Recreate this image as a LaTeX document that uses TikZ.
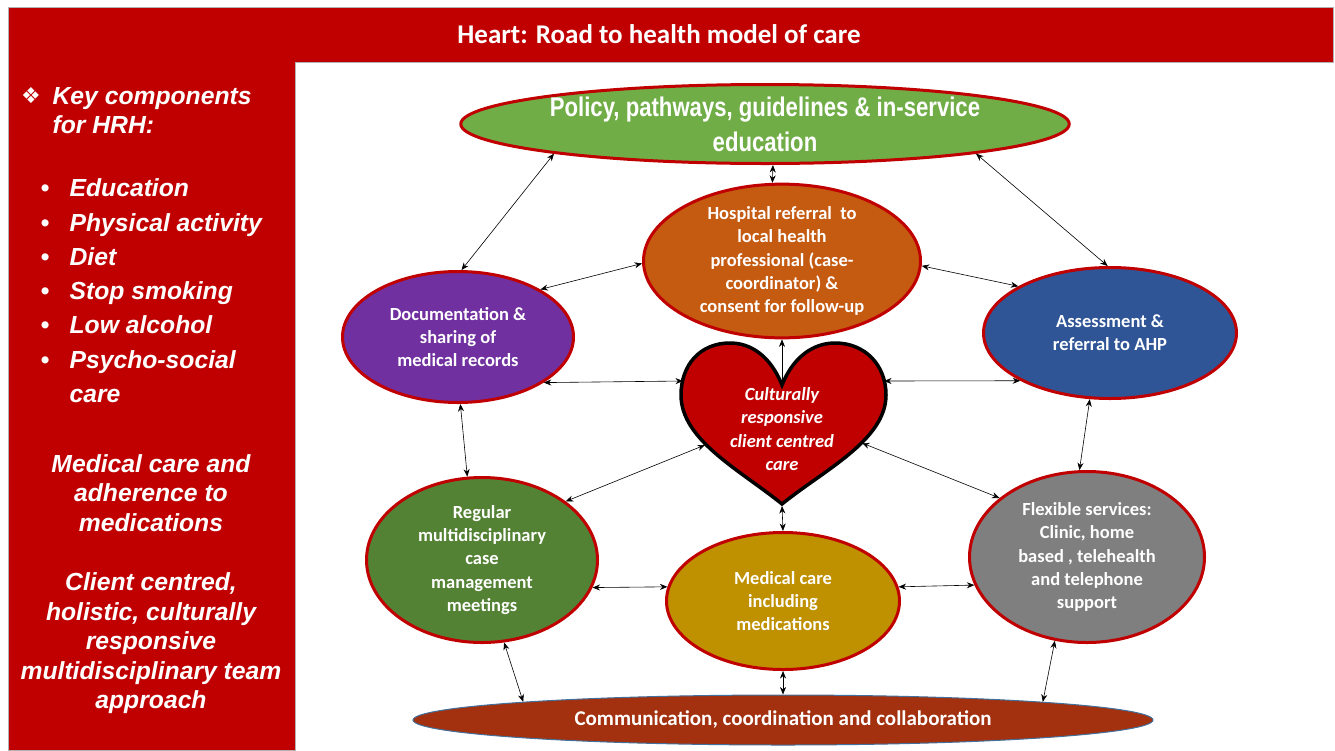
\documentclass[tikz,border=0pt]{standalone}
\usepackage{fontspec}
\usetikzlibrary{shapes.geometric,arrows.meta}
\setmainfont{Carlito}
\newfontfamily\arialfont{Liberation Sans}
\newfontfamily\narrowfont[FakeStretch=0.82]{Liberation Sans}
\newfontfamily\symfont{DejaVu Sans}

\definecolor{boxred}{HTML}{C00000}
\definecolor{policygreen}{HTML}{70AD47}
\definecolor{referorange}{HTML}{C55A11}
\definecolor{docpurple}{HTML}{7030A0}
\definecolor{assessblue}{HTML}{2F5597}
\definecolor{meetgreen}{HTML}{548235}
\definecolor{medgold}{HTML}{BF9000}
\definecolor{flexgrey}{HTML}{7F7F7F}
\definecolor{commbrown}{HTML}{A3300F}
\definecolor{commedge}{HTML}{41719C}

\newcommand{\hrhdot}{\llap{{\upshape\textbullet}\hspace{20pt}}}

\begin{document}
\begin{tikzpicture}
            [x=1pt, y=-1pt, >={Stealth[length=7.5pt,width=6pt]}, semithick,
             bubble/.style={shape=ellipse, draw=boxred, line width=3pt, text=white, inner sep=0pt,
                            align=center, font=\bfseries\fontsize{18.5}{23.2}\selectfont},
             panel/.style={text=white, font=\arialfont\bfseries\itshape\fontsize{24.7}{29.4}\selectfont}]
            \useasboundingbox (0,0) rectangle (1335,750);

            % frame
            \filldraw[fill=boxred, draw=black!30, line width=0.8pt]
                (8,7) -- (1333,7) -- (1333,62) -- (295,62) -- (295,750) -- (8,750) -- cycle;
            \node[text=white, font=\bfseries\fontsize{27}{32}\selectfont] (title) at (659,34) {Heart: Road to health model of care};

            % left panel (base = last line)
            \node[text=white, font=\symfont\fontsize{22}{24}\selectfont] (hrhmark) at (31,96) {❖};
            \node[panel, anchor=base west, align=left] (hrhhead) at (49,133.5) {Key components\\for HRH:};
            \node[panel, anchor=base west, align=left, font=\arialfont\bfseries\itshape\fontsize{24.7}{34.3}\selectfont] (hrhlist) at (66,402.5)
                {\hrhdot Education\\\hrhdot Physical activity\\\hrhdot Diet\\\hrhdot Stop smoking\\\hrhdot Low alcohol\\\hrhdot Psycho-social\\care};
            \node[panel, anchor=base, align=center] (medpara) at (151,531) {Medical care and\\adherence to\\medications};
            \node[panel, anchor=base, align=center] (teampara) at (151,708.5)
                {Client centred,\\holistic, culturally\\responsive\\multidisciplinary team\\approach};

            % model of care
            \node[bubble, fill=policygreen, minimum width=608pt, minimum height=79pt,
                  font=\narrowfont\bfseries\fontsize{27}{35}\selectfont] (policy) at (765,124)
                {Policy, pathways, guidelines \& in-service\\education};
            \node[bubble, fill=referorange, minimum width=277pt, minimum height=142pt] (hosp) at (782,261)
                {Hospital referral\ \ to\\local health\\professional (case-\\coordinator) \&\\consent for follow-up};
            \node[bubble, fill=docpurple, minimum width=231pt, minimum height=131pt] (doc) at (458,337)
                {Documentation \&\\sharing of\\medical records};
            \node[bubble, fill=assessblue, minimum width=253pt, minimum height=131pt] (assess) at (1110,333)
                {Assessment \&\\referral to AHP};
            \node[bubble, fill=meetgreen, minimum width=231pt, minimum height=165pt] (meet) at (482,560)
                {Regular\\multidisciplinary\\case\\management\\meetings};
            \node[bubble, fill=medgold, minimum width=233pt, minimum height=137pt] (med) at (783,601)
                {Medical care\\including\\medications};
            \node[bubble, fill=flexgrey, minimum width=235pt, minimum height=171pt] (flex) at (1087,557)
                {Flexible services:\\Clinic, home\\based , telehealth\\and telephone\\support};
            \node[bubble, fill=commbrown, draw=commedge, line width=1pt, minimum width=740pt, minimum height=50pt,
                  font=\bfseries\fontsize{21}{25}\selectfont] (comm) at (783,720)
                {Communication, coordination and collaboration};

            % heart
            \filldraw[fill=boxred, draw=black, line width=3.5pt]
                (782,385) .. controls (770,355) and (750,343) .. (730,343)
                .. controls (700,343) and (681,365) .. (681,395)
                .. controls (681,440) and (740,470) .. (782,504)
                .. controls (824,470) and (886,440) .. (886,395)
                .. controls (886,365) and (865,343) .. (835,343)
                .. controls (815,343) and (794,355) .. (782,385) -- cycle;
            \coordinate (heartnotch) at (782,387);
            \coordinate (heartleft) at (683,381);
            \coordinate (heartright) at (884,381);
            \coordinate (heartlowleft) at (705,445);
            \coordinate (heartlowright) at (862,443);
            \coordinate (hearttip) at (782,506);
            \node[text=white, align=center, font=\bfseries\itshape\fontsize{18.5}{23.3}\selectfont] (care) at (782,429)
                {Culturally\\responsive\\client centred\\care};

            \path [<->] (policy.188) edge (doc.87);
            \path [<->] (policy.-79) edge (hosp.97);
            \path [<->] (policy.-8) edge (assess.92);
            \path [<->] (doc.30) edge (hosp.181);
            \path [<->] (hosp.-2) edge (assess.153);
            \path [<->] (doc.-28) edge (heartleft);
            \path [->] (heartnotch) edge (hosp.south);
            \path [<->] (heartright) edge (assess.208);
            \path [<->] (doc.-88) edge (meet.100);
            \path [<->] (assess.-107) edge (flex.95);
            \path [<->] (heartlowleft) edge (meet.35);
            \path [<->] (heartlowright) edge (flex.146);
            \path [<->] (hearttip) edge (med.north);
            \path [<->] (meet.-14) edge (med.173);
            \path [<->] (med.7) edge (flex.194);
            \path [<->] (meet.-75) edge (comm.176);
            \path [<->] (med.south) edge (comm.north);
            \path [<->] (flex.-111) edge (comm.4);
        \end{tikzpicture}
\end{document}
